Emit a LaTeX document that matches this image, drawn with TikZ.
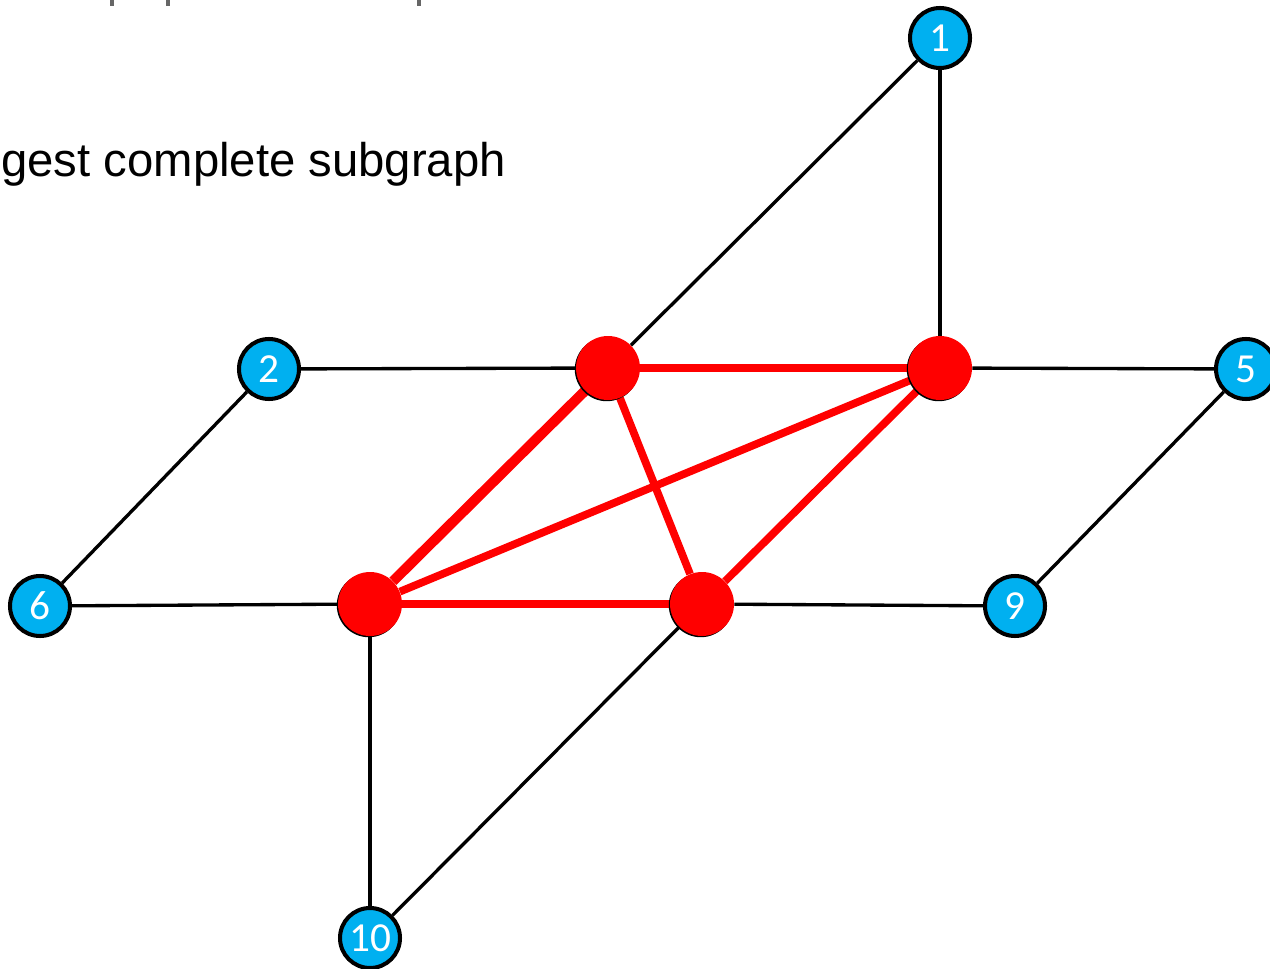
\documentclass[tikz,border=0pt]{standalone}
\usepackage{fontspec}
\setmainfont{Liberation Sans}
\newfontfamily\calib{Carlito}
\usetikzlibrary{backgrounds,shadows}
\definecolor{cyanb}{HTML}{00B0F0}
\definecolor{titlegray}{HTML}{666666}
\begin{document}
\begin{tikzpicture}[x=0.02cm,y=-0.02cm,
 bnode/.style={circle,draw=black,line width=2.3pt,fill=cyanb,minimum size=1.2cm,inner sep=0pt,text=white,font=\calib\fontsize{23.5}{23.5}\selectfont},
 rnode/.style={circle,fill=red,minimum size=1.28cm,inner sep=0pt,drop shadow={shadow xshift=-0.7pt,shadow yshift=-0.7pt,fill=black,opacity=1}},
 bedge/.style={line width=1.9pt,black},
 redge/.style={line width=4.4pt,red},
 redgethick/.style={line width=5.8pt,red},
]
\useasboundingbox (0,0) rectangle (1270,969);
\clip (0,0) rectangle (1270,969);
% title fragments
\fill[titlegray] (110,0) rectangle (114,6);
\fill[titlegray] (166,0) rectangle (170,6);
\fill[titlegray] (417,0) rectangle (421,6);
\node[anchor=base west,inner sep=0pt,font=\fontsize{26.9}{30}\selectfont] (t) at (1,177) {gest complete subgraph};
% nodes
\node[bnode] (n1) at (940,38) {1};
\node[bnode] (n2) at (269,369) {2};
\node[bnode] (n5) at (1246,369) {5};
\node[bnode] (n6) at (40,606) {6};
\node[bnode] (n9) at (1015,606) {9};
\node[bnode] (n10) at (370,938) {10};
\node[rnode] (a) at (608,368) {};
\node[rnode] (b) at (940,368) {};
\node[rnode] (c) at (370,604) {};
\node[rnode] (d) at (702,604) {};
\begin{pgfonlayer}{background}
\draw[bedge] (n1) -- (a);
\draw[bedge] (n1) -- (b);
\draw[bedge] (n2) -- (a);
\draw[bedge] (b) -- (n5);
\draw[bedge] (n2) -- (n6);
\draw[bedge] (n5) -- (n9);
\draw[bedge] (n6) -- (c);
\draw[bedge] (d) -- (n9);
\draw[bedge] (c) -- (n10);
\draw[bedge] (d) -- (n10);
\draw[redge] (a) -- (b);
\draw[redgethick] (a) -- (c);
\draw[redge] (a) -- (d);
\draw[redge] (b) -- (c);
\draw[redge] (b) -- (d);
\draw[redge] (c) -- (d);
\end{pgfonlayer}
\end{tikzpicture}
\end{document}
